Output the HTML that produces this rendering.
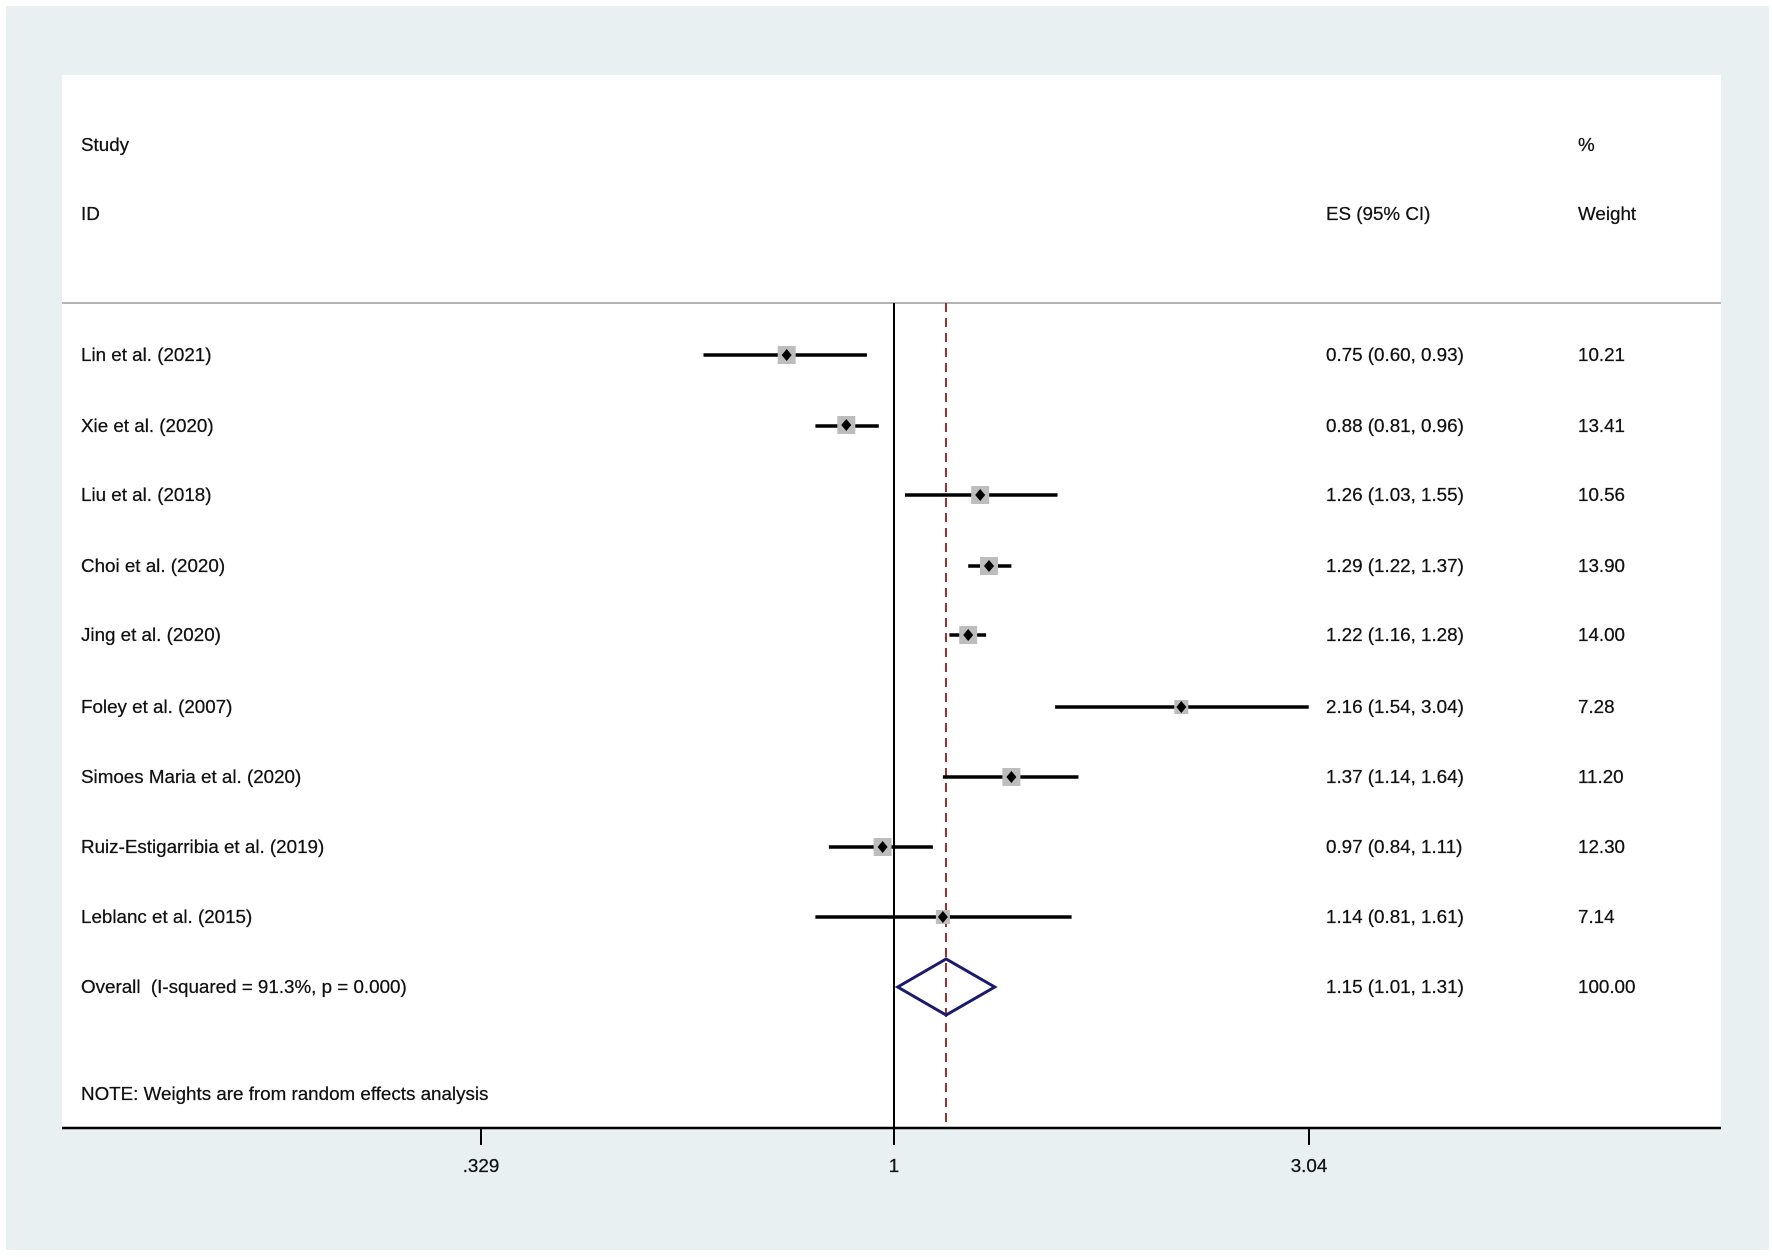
<!DOCTYPE html>
<html><head><meta charset="utf-8"><style>
html,body{margin:0;padding:0;background:#fff;}
svg{display:block;font-family:"Liberation Sans",Arial,sans-serif;}
text{font-size:18.8px;fill:#111;stroke:#111;stroke-width:0.25px;}
</style></head><body>
<svg width="1772" height="1257" viewBox="0 0 1772 1257" xmlns="http://www.w3.org/2000/svg">
<rect x="0" y="0" width="1772" height="1257" fill="#fff"/>
<rect x="6" y="6" width="1763" height="1244" fill="#e8f0f2"/>
<rect x="62" y="75" width="1659" height="1053" fill="#fff"/>
<line x1="62" y1="303" x2="1721" y2="303" stroke="#b4b4b4" stroke-width="2"/>
<text x="81" y="151">Study</text>
<text x="81" y="220">ID</text>
<text x="1326" y="220">ES (95% CI)</text>
<text x="1578" y="151">%</text>
<text x="1578" y="220">Weight</text>
<g transform="translate(-4,0)">
<line x1="898" y1="303" x2="898" y2="1128" stroke="#000" stroke-width="2"/>
<line x1="950" y1="303" x2="950" y2="1128" stroke="#a03030" stroke-width="2" stroke-dasharray="9,6"/>
<g stroke="#000" stroke-width="3.5">
<line x1="707.5" y1="355" x2="870.9" y2="355"/>
<line x1="819.4" y1="426" x2="882.8" y2="426"/>
<line x1="909" y1="495" x2="1061.5" y2="495"/>
<line x1="972.2" y1="566" x2="1015.4" y2="566"/>
<line x1="953.4" y1="635" x2="990.1" y2="635"/>
<line x1="1059.1" y1="707" x2="1312.7" y2="707"/>
<line x1="946.9" y1="777" x2="1082.5" y2="777"/>
<line x1="832.9" y1="847" x2="936.9" y2="847"/>
<line x1="819.4" y1="917" x2="1075.6" y2="917"/>
</g>
<g fill="#bdbdbd">
<rect x="781.7" y="346" width="18" height="18"/>
<rect x="841.3" y="416" width="18" height="18"/>
<rect x="975.2" y="486" width="18" height="18"/>
<rect x="984" y="557" width="18" height="18"/>
<rect x="963.2" y="626" width="18" height="18"/>
<rect x="1178.3" y="700" width="14" height="14"/>
<rect x="1006.4" y="768" width="18" height="18"/>
<rect x="877.6" y="838" width="18" height="18"/>
<rect x="939.9" y="910" width="14" height="14"/>
</g>
<g fill="#000">
<path d="M790.7 349 l5 6 -5 6 -5 -6z"/>
<path d="M850.3 419 l5 6 -5 6 -5 -6z"/>
<path d="M984.2 489 l5 6 -5 6 -5 -6z"/>
<path d="M993 560 l5 6 -5 6 -5 -6z"/>
<path d="M972.2 629 l5 6 -5 6 -5 -6z"/>
<path d="M1185.3 701 l5 6 -5 6 -5 -6z"/>
<path d="M1015.4 771 l5 6 -5 6 -5 -6z"/>
<path d="M886.6 841 l5 6 -5 6 -5 -6z"/>
<path d="M946.9 911 l5 6 -5 6 -5 -6z"/>
</g>
<path d="M901.7 987 L950.1 959 L998.7 987 L950.1 1015 Z" fill="none" stroke="#1a1a6e" stroke-width="3"/>
<g stroke="#000" stroke-width="2">
<line x1="485" y1="1128" x2="485" y2="1145"/>
<line x1="898" y1="1128" x2="898" y2="1145"/>
<line x1="1313" y1="1128" x2="1313" y2="1145"/>
</g>
<g text-anchor="middle">
<text x="485" y="1172">.329</text>
<text x="898" y="1172">1</text>
<text x="1313" y="1172">3.04</text>
</g>
</g>
<g>
<text x="81" y="361">Lin et al. (2021)</text>
<text x="81" y="432">Xie et al. (2020)</text>
<text x="81" y="501">Liu et al. (2018)</text>
<text x="81" y="572">Choi et al. (2020)</text>
<text x="81" y="641">Jing et al. (2020)</text>
<text x="81" y="713">Foley et al. (2007)</text>
<text x="81" y="783">Simoes Maria et al. (2020)</text>
<text x="81" y="853">Ruiz-Estigarribia et al. (2019)</text>
<text x="81" y="923">Leblanc et al. (2015)</text>
<text x="81" y="993" xml:space="preserve">Overall  (I-squared = 91.3%, p = 0.000)</text>
<text x="81" y="1100">NOTE: Weights are from random effects analysis</text>
<text x="1326" y="361">0.75 (0.60, 0.93)</text>
<text x="1326" y="432">0.88 (0.81, 0.96)</text>
<text x="1326" y="501">1.26 (1.03, 1.55)</text>
<text x="1326" y="572">1.29 (1.22, 1.37)</text>
<text x="1326" y="641">1.22 (1.16, 1.28)</text>
<text x="1326" y="713">2.16 (1.54, 3.04)</text>
<text x="1326" y="783">1.37 (1.14, 1.64)</text>
<text x="1326" y="853">0.97 (0.84, 1.11)</text>
<text x="1326" y="923">1.14 (0.81, 1.61)</text>
<text x="1326" y="993">1.15 (1.01, 1.31)</text>
<text x="1578" y="361">10.21</text>
<text x="1578" y="432">13.41</text>
<text x="1578" y="501">10.56</text>
<text x="1578" y="572">13.90</text>
<text x="1578" y="641">14.00</text>
<text x="1578" y="713">7.28</text>
<text x="1578" y="783">11.20</text>
<text x="1578" y="853">12.30</text>
<text x="1578" y="923">7.14</text>
<text x="1578" y="993">100.00</text>
</g>
<line x1="62" y1="1128" x2="1721" y2="1128" stroke="#000" stroke-width="2.5"/>
</svg>
</body></html>
